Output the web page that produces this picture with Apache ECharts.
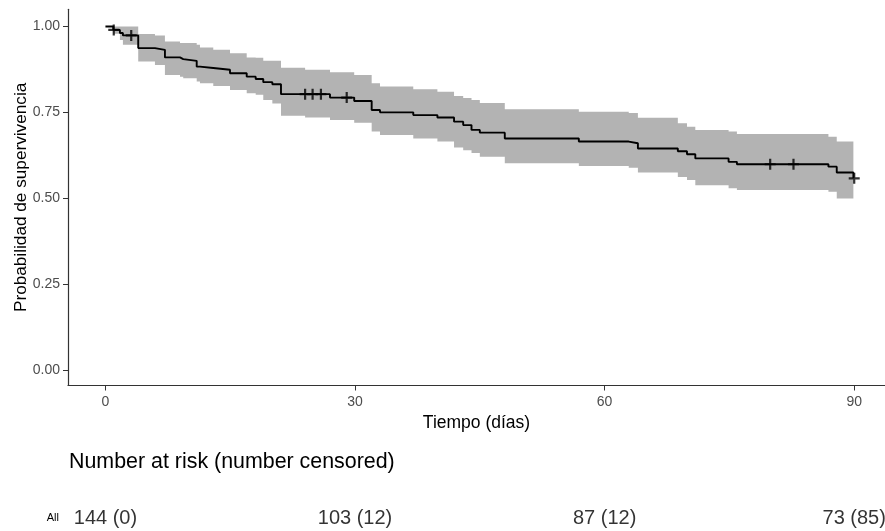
<!DOCTYPE html>
<html>
<head>
<meta charset="utf-8">
<script src="https://cdn.jsdelivr.net/npm/echarts@6/dist/echarts.min.js"></script>
<style>
  html, body { margin: 0; padding: 0; background: #fff; }
  #chart { width: 885px; height: 531px; }
</style>
</head>
<body>
<div id="chart"></div>
<script>
// Kaplan-Meier estimate: event times (days) and survival after each step
const times = [0, 0.94, 1.74, 2.1, 3.94, 5.95, 7.15, 8.96, 9.35, 10.97, 11.36, 12.96, 14.97, 16.98, 18.06,
  18.97, 20.06, 21.1, 26.99, 29.9, 32, 33, 37, 39.9, 41.9, 43, 44, 45, 48, 56.9, 62.9, 64, 68.8, 69.9,
  70.9, 74.9, 75.9, 86.9, 87.9, 89.9];
const survival = [1, 0.990, 0.981, 0.974, 0.937, 0.932, 0.910, 0.905, 0.900, 0.883, 0.879, 0.874, 0.864,
  0.854, 0.847, 0.838, 0.832, 0.803, 0.793, 0.783, 0.757, 0.750, 0.742, 0.735, 0.723, 0.713, 0.699, 0.691,
  0.674, 0.665, 0.660, 0.645, 0.637, 0.628, 0.616, 0.606, 0.599, 0.592, 0.575, 0.558];

// 95% confidence band (step ribbon)
const bandTimes = [0, 0.94, 1.74, 2.1, 3.94, 5.95, 7.15, 8.96, 9.35, 10.97, 11.36, 12.96, 14.97, 16.98,
  18.06, 18.97, 20.06, 21.1, 24, 26.99, 29.9, 32, 33, 37, 39.9, 41.9, 43, 44, 45, 48, 56.9, 62.9, 64, 68.8,
  69.9, 70.9, 74.9, 75.9, 86.9, 87.9, 89.9];
const bandUpper = [1, 1, 1, 1, 0.978, 0.974, 0.956, 0.952, 0.952, 0.947, 0.939, 0.932, 0.922, 0.910, 0.909,
  0.900, 0.900, 0.880, 0.874, 0.867, 0.859, 0.835, 0.825, 0.817, 0.810, 0.798, 0.792, 0.786, 0.777, 0.759,
  0.752, 0.748, 0.734, 0.718, 0.708, 0.699, 0.694, 0.687, 0.679, 0.665, 0.665];
const bandLower = [1, 0.979, 0.961, 0.947, 0.898, 0.888, 0.859, 0.854, 0.849, 0.840, 0.835, 0.827, 0.815,
  0.806, 0.801, 0.786, 0.776, 0.740, 0.735, 0.728, 0.720, 0.694, 0.684, 0.674, 0.665, 0.648, 0.640, 0.632,
  0.621, 0.602, 0.594, 0.589, 0.575, 0.562, 0.553, 0.538, 0.529, 0.524, 0.519, 0.499, 0.499];

// Censored observations
const censorTimes = [1.0, 3.1, 24.0, 24.9, 25.9, 29.0, 79.9, 82.7, 90.0];
const censorSurv = [0.990, 0.974, 0.803, 0.803, 0.803, 0.793, 0.599, 0.599, 0.558];

// Axis ticks
const xTicks = [0, 30, 60, 90];
const yTicks = [0, 0.25, 0.5, 0.75, 1];

// Risk table
const riskTimes = [0, 30, 60, 90];
const riskN = [144, 103, 87, 73];
const riskCensored = [0, 12, 12, 85];
const strataName = 'All';

const FONT = "'Liberation Sans', Arial, sans-serif";
const PLUS = 'path://M4,0H6V4H10V6H6V10H4V6H0V4H4Z';

// Step-shaped ribbon polygon between the lower and upper confidence limits
function renderBand(params, api) {
  const upperPts = [];
  const lowerPts = [];
  const n = bandTimes.length;
  for (let i = 0; i < n; i++) {
    const tNext = i < n - 1 ? bandTimes[i + 1] : bandTimes[i];
    upperPts.push(api.coord([bandTimes[i], bandUpper[i]]));
    upperPts.push(api.coord([tNext, bandUpper[i]]));
    lowerPts.push(api.coord([bandTimes[i], bandLower[i]]));
    lowerPts.push(api.coord([tNext, bandLower[i]]));
  }
  return {
    type: 'polygon',
    shape: { points: upperPts.concat(lowerPts.reverse()) },
    style: { fill: '#b3b3b3', stroke: null }
  };
}

const chart = echarts.init(document.getElementById('chart'), null, { renderer: 'canvas' });

const option = {
  animation: false,
  textStyle: { fontFamily: FONT },
  title: {
    text: 'Number at risk (number censored)',
    left: 64, top: 447,
    textStyle: { fontFamily: FONT, fontSize: 21.4, fontWeight: 'normal', color: '#000' }
  },
  grid: [
    { left: 68, right: 0, top: 9.3, height: 376.2, containLabel: false, outerBoundsMode: 'none' },
    { left: 68, right: 0, top: 500, height: 36, containLabel: false, outerBoundsMode: 'none' }
  ],
  xAxis: [
    {
      type: 'value', gridIndex: 0, min: -4.5, max: 93.7,
      name: 'Tiempo (días)', nameLocation: 'middle', nameGap: 29, nameMoveOverlap: false,
      nameTextStyle: { fontFamily: FONT, fontSize: 17.5, color: '#000' },
      axisLine: { onZero: false, lineStyle: { color: '#333', width: 1.2 } },
      axisTick: { show: true, length: 5, customValues: xTicks, lineStyle: { color: '#333' } },
      axisLabel: { customValues: xTicks, color: '#4d4d4d', fontSize: 14, margin: 10, fontFamily: FONT },
      splitLine: { show: false }
    },
    {
      type: 'value', gridIndex: 1, min: -4.5, max: 93.7, show: false
    }
  ],
  yAxis: [
    {
      type: 'value', gridIndex: 0, min: -0.045, max: 1.05,
      name: 'Probabilidad de supervivencia', nameLocation: 'middle', nameGap: 38, nameMoveOverlap: false,
      nameTextStyle: { fontFamily: FONT, fontSize: 17.2, color: '#000' },
      axisLine: { show: true, onZero: false, lineStyle: { color: '#333', width: 1.2 } },
      axisTick: { show: true, length: 5, customValues: yTicks, lineStyle: { color: '#333' } },
      axisLabel: {
        customValues: yTicks, color: '#4d4d4d', fontSize: 14, margin: 8, fontFamily: FONT,
        formatter: v => v.toFixed(2)
      },
      splitLine: { show: false }
    },
    {
      type: 'category', gridIndex: 1, data: [strataName],
      axisLine: { show: false }, axisTick: { show: false },
      axisLabel: { color: '#000', fontSize: 11, margin: 9, fontFamily: FONT }
    }
  ],
  series: [
    {
      type: 'custom', silent: true,
      renderItem: renderBand,
      data: [0],
      clip: true,
      z: 1
    },
    {
      type: 'line', step: 'end', symbol: 'none',
      lineStyle: { color: '#000', width: 1.9 },
      data: times.map((t, i) => [t, survival[i]]),
      z: 3
    },
    {
      type: 'scatter', symbol: PLUS, symbolSize: 11,
      itemStyle: { color: '#000' },
      data: censorTimes.map((t, i) => [t, censorSurv[i]]),
      z: 4
    },
    {
      type: 'scatter', xAxisIndex: 1, yAxisIndex: 1,
      symbolSize: 1, itemStyle: { color: 'rgba(0,0,0,0)' },
      data: riskTimes.map(t => [t, 0]),
      label: {
        show: true, position: 'inside', color: '#000', fontSize: 20, fontFamily: FONT,
        formatter: p => riskN[p.dataIndex] + ' (' + riskCensored[p.dataIndex] + ')'
      }
    }
  ]
};

chart.setOption(option);
</script>
</body>
</html>
